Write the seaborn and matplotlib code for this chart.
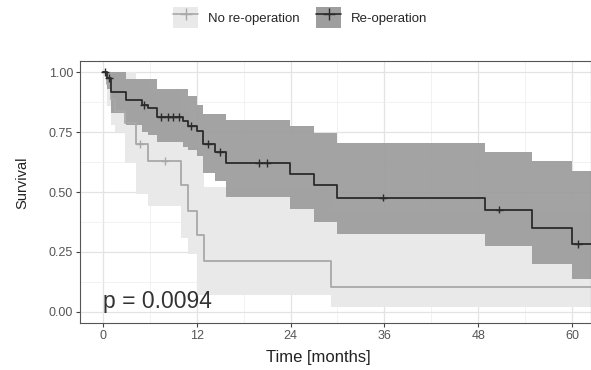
import numpy as np
import pandas as pd
import matplotlib
matplotlib.use('Agg')
import matplotlib.pyplot as plt
import seaborn as sns
from matplotlib.patches import Patch
from matplotlib.lines import Line2D

# Re-operation group: step times, survival and CI bounds
reop_time = [0, 0.6, 1.0, 3.0, 5.0, 5.8, 6.9, 10.3, 10.9, 12.0, 12.8, 14.3, 15.8, 23.9, 27.0, 29.9, 48.8, 54.9, 60.0, 62.4]
reop_surv = [1.0, 0.976, 0.92, 0.884, 0.863, 0.85, 0.814, 0.795, 0.775, 0.754, 0.70, 0.668, 0.623, 0.577, 0.528, 0.477, 0.427, 0.351, 0.282, 0.282]
reop_upper = [1.0, 1.0, 1.0, 0.972, 0.972, 0.972, 0.93, 0.93, 0.90, 0.863, 0.828, 0.828, 0.80, 0.777, 0.745, 0.707, 0.668, 0.629, 0.587, 0.587]
reop_lower = [1.0, 0.93, 0.83, 0.78, 0.75, 0.74, 0.71, 0.69, 0.675, 0.65, 0.58, 0.545, 0.48, 0.43, 0.375, 0.323, 0.273, 0.198, 0.138, 0.138]
reop_censor = [0.3, 0.8, 5.3, 7.5, 8.3, 9.0, 9.8, 11.3, 13.5, 15.0, 20.0, 21.0, 35.8, 50.7, 60.7]

# No re-operation group
noreop_time = [0, 0.5, 1.0, 1.6, 2.8, 4.3, 5.8, 10.0, 10.9, 12.0, 12.9, 29.2, 62.4]
noreop_surv = [1.0, 0.95, 0.89, 0.84, 0.79, 0.70, 0.63, 0.53, 0.42, 0.32, 0.21, 0.105, 0.105]
noreop_upper = [1.0, 1.0, 1.0, 1.0, 1.0, 0.97, 0.92, 0.85, 0.76, 0.66, 0.52, 0.42, 0.42]
noreop_lower = [1.0, 0.86, 0.78, 0.75, 0.62, 0.49, 0.44, 0.31, 0.24, 0.068, 0.068, 0.02, 0.02]
noreop_censor = [4.8, 7.9]

groups = ['No re-operation', 'Re-operation']
line_colors = ['#a8a8a8', '#2b2b2b']
band_colors = ['#e9e9e9', '#9e9e9e']
p_label = 'p = 0.0094'

curves = pd.concat([
    pd.DataFrame({'time': noreop_time, 'surv': noreop_surv, 'group': groups[0]}),
    pd.DataFrame({'time': reop_time, 'surv': reop_surv, 'group': groups[1]}),
])

def surv_at(times, survs, t):
    i = np.searchsorted(times, t, side='right') - 1
    return survs[i]

cens = pd.concat([
    pd.DataFrame({'time': noreop_censor,
                  'surv': [surv_at(noreop_time, noreop_surv, t) for t in noreop_censor],
                  'group': groups[0]}),
    pd.DataFrame({'time': reop_censor,
                  'surv': [surv_at(reop_time, reop_surv, t) for t in reop_censor],
                  'group': groups[1]}),
])

sns.set_theme(style='whitegrid')
plt.rcParams['font.family'] = ['Liberation Sans', 'DejaVu Sans']

fig = plt.figure(figsize=(5.91, 3.70), dpi=100)
ax = fig.add_axes([80 / 591, 1 - 322.7 / 370, 511 / 591, 262 / 370])

# confidence bands
ax.fill_between(noreop_time, noreop_lower, noreop_upper, step='post', color=band_colors[0], lw=0, zorder=1)
ax.fill_between(reop_time, reop_lower, reop_upper, step='post', color=band_colors[1], alpha=0.95, lw=0, zorder=2)

sns.lineplot(data=curves, x='time', y='surv', hue='group', palette=line_colors,
             drawstyle='steps-post', estimator=None, sort=False, legend=False,
             linewidth=1.3, ax=ax, zorder=3)
sns.scatterplot(data=cens, x='time', y='surv', hue='group', palette=line_colors,
                marker='+', s=32, linewidth=1.0, legend=False, ax=ax, zorder=4)

ax.text(0, 0.015, p_label, fontsize=16.5, color='#333333', va='baseline', ha='left', zorder=5)

ax.set_xlim(-2.9, 62.4)
ax.set_ylim(-0.046, 1.049)
ax.set_xticks([0, 12, 24, 36, 48, 60])
ax.set_yticks([0, 0.25, 0.5, 0.75, 1.0])
ax.set_yticklabels(['0.00', '0.25', '0.50', '0.75', '1.00'])
ax.set_xticks([6, 18, 30, 42, 54], minor=True)
ax.set_yticks([0.125, 0.375, 0.625, 0.875], minor=True)
ax.grid(which='major', color='#e3e3e3', linewidth=0.9)
ax.grid(which='minor', color='#ededed', linewidth=0.5)
ax.set_axisbelow(True)
for s in ax.spines.values():
    s.set_color('#555555')
    s.set_linewidth(0.8)
ax.tick_params(which='major', length=3, width=0.8, color='#444444', labelsize=9,
               labelcolor='#555555', pad=2, bottom=True, left=True)
ax.tick_params(which='minor', length=0)
ax.set_xlabel('Time [months]', fontsize=12, color='#222222')
ax.set_ylabel('Survival', fontsize=10.5, color='#222222')
ax.xaxis.set_label_coords(0.466, -0.104)
ax.yaxis.set_label_coords(-0.100, 0.533)

handles = [
    (Patch(facecolor=band_colors[0], edgecolor='none'),
     Line2D([], [], color=line_colors[0], marker='+', markersize=8, linewidth=1.2)),
    (Patch(facecolor=band_colors[1], edgecolor='none'),
     Line2D([], [], color=line_colors[1], marker='+', markersize=8, linewidth=1.2)),
]
fig.legend(handles, groups, loc='center', bbox_to_anchor=(0.508, 0.953), ncol=2,
           frameon=False, fontsize=9.5, handlelength=1.9, handleheight=2.0,
           columnspacing=1.3, handletextpad=0.7)

fig.savefig('out.png', dpi=100)
